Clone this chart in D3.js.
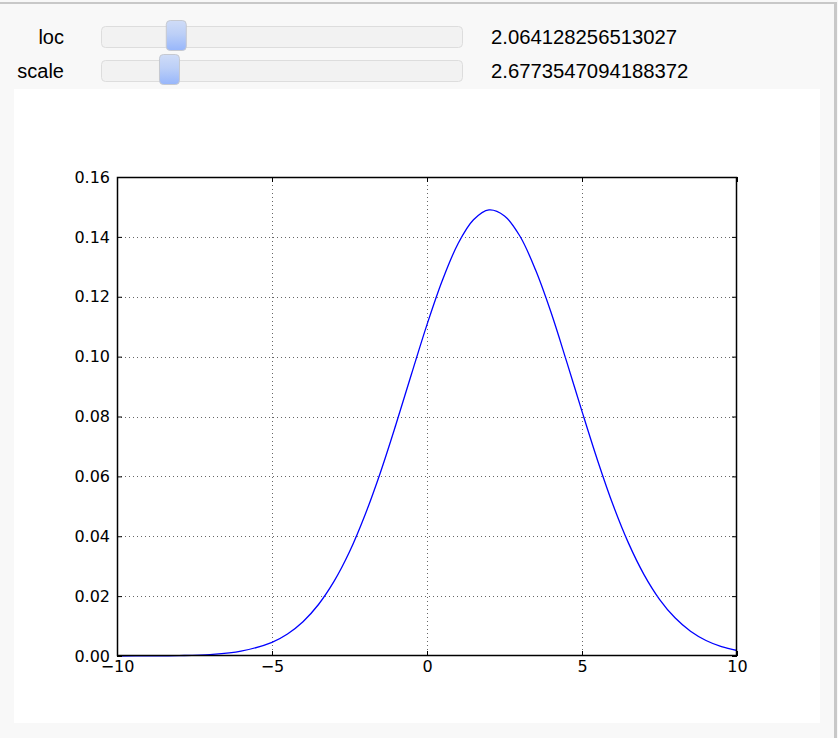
<!DOCTYPE html>
<html>
<head>
<meta charset="utf-8">
<script src="https://cdn.jsdelivr.net/npm/d3@7"></script>
<style>
  html, body { margin: 0; padding: 0; background: #f8f8f8; }
  svg { display: block; }
</style>
</head>
<body>
<svg id="chart" width="838" height="738"></svg>
<script>
// ---- data ----
const sliderNames = ["loc", "scale"];
const sliderValues = ["2.064128256513027", "2.6773547094188372"];
const sliderFractions = [0.19, 0.17]; // handle position along the track

const xs = [-10, -9, -8, -7, -6, -5, -4.5, -4, -3.5, -3, -2.5, -2, -1.5, -1, -0.5, 0, 0.5, 1, 1.5, 2, 2.5, 3, 3.5, 4, 4.5, 5, 5.5, 6, 6.5, 7, 7.5, 8, 8.5, 9, 9.5, 10];
const ys = [0.000006, 0.000029, 0.000127, 0.00048, 0.0016, 0.00458, 0.00737, 0.01145, 0.0172, 0.0249, 0.0348, 0.0471, 0.0614, 0.0774, 0.0942, 0.1107, 0.1256, 0.1377, 0.1457, 0.1490, 0.1470, 0.1402, 0.1290, 0.1148, 0.0985, 0.0817, 0.0654, 0.0505, 0.0377, 0.0272, 0.01895, 0.01276, 0.00828, 0.00519, 0.00314, 0.00184];

const xTicks = [-10, -5, 0, 5, 10];
const yTicks = [0.00, 0.02, 0.04, 0.06, 0.08, 0.10, 0.12, 0.14, 0.16];

// ---- page frame ----
const svg = d3.select("#chart");
svg.append("rect").attr("x", 0).attr("y", 2).attr("width", 836).attr("height", 2).attr("fill", "#c8c8c8");
svg.append("rect").attr("x", 834).attr("y", 2).attr("width", 3).attr("height", 736).attr("fill", "#c8c8c8");

// ---- sliders ----
const defs = svg.append("defs");
const grad = defs.append("linearGradient").attr("id", "hgrad").attr("x1", 0).attr("y1", 0).attr("x2", 0).attr("y2", 1);
grad.append("stop").attr("offset", "0%").attr("stop-color", "#cfdcf7");
grad.append("stop").attr("offset", "45%").attr("stop-color", "#bccff7");
grad.append("stop").attr("offset", "100%").attr("stop-color", "#97b6fb");

const trackX0 = 101, trackW = 361, trackH = 22;
const rowTop = [26, 60];
sliderNames.forEach((name, i) => {
  const g = svg.append("g");
  g.append("text").attr("x", 64).attr("y", rowTop[i] + 18)
    .attr("text-anchor", "end")
    .style("font-family", "'Liberation Sans', Arial, sans-serif").style("font-size", "20px")
    .attr("fill", "#000").text(name);
  g.append("rect").attr("x", trackX0 + 0.5).attr("y", rowTop[i] + 0.5).attr("width", trackW).attr("height", trackH - 1)
    .attr("rx", 4).attr("fill", "#f2f2f2").attr("stroke", "#dddddd");
  const hx = trackX0 + sliderFractions[i] * (trackW - 20);
  g.append("rect").attr("x", hx + 0.5).attr("y", rowTop[i] - 5.5).attr("width", 20).attr("height", 30)
    .attr("rx", 4).attr("fill", "url(#hgrad)").attr("stroke", "#c6c9d0");
  g.append("text").attr("x", 491).attr("y", rowTop[i] + 18)
    .style("font-family", "'Liberation Sans', Arial, sans-serif").style("font-size", "20.3px")
    .attr("fill", "#000").text(sliderValues[i]);
});

// ---- white figure panel ----
svg.append("rect").attr("x", 14).attr("y", 89).attr("width", 806).attr("height", 634).attr("fill", "#ffffff");

// ---- plot ----
const L = 117, R = 737, T = 177, B = 656;
const x = d3.scaleLinear().domain([-10, 10]).range([L, R]);
const y = d3.scaleLinear().domain([0, 0.16]).range([B, T]);
const plot = svg.append("g");

// grid
plot.append("g").selectAll("line").data(xTicks.slice(1, -1)).join("line")
  .attr("x1", d => Math.round(x(d)) + 0.5).attr("x2", d => Math.round(x(d)) + 0.5)
  .attr("y1", T).attr("y2", B)
  .attr("stroke", "#000").attr("stroke-width", 0.6).attr("stroke-dasharray", "1,3");
plot.append("g").selectAll("line").data(yTicks.slice(1, -1)).join("line")
  .attr("y1", d => Math.round(y(d)) + 0.5).attr("y2", d => Math.round(y(d)) + 0.5)
  .attr("x1", L).attr("x2", R)
  .attr("stroke", "#000").attr("stroke-width", 0.6).attr("stroke-dasharray", "1,3");

// curve
const line = d3.line().x((d, i) => x(xs[i])).y(d => y(d)).curve(d3.curveCatmullRom.alpha(0.5));
plot.append("path").datum(ys).attr("d", line)
  .attr("fill", "none").attr("stroke", "#0000ff").attr("stroke-width", 1.3);

// axes with inward ticks
const fontTick = "'DejaVu Sans', sans-serif";
const fmtY = d3.format(".2f");
const fmtX = d => d < 0 ? "\u2212" + Math.abs(d) : String(d);

const xAxisB = d3.axisBottom(x).tickValues(xTicks).tickSize(-5).tickPadding(5).tickFormat(fmtX);
const xAxisT = d3.axisTop(x).tickValues(xTicks).tickSize(-5).tickFormat("");
const yAxisL = d3.axisLeft(y).tickValues(yTicks).tickSize(-5).tickPadding(7).tickFormat(fmtY);
const yAxisR = d3.axisRight(y).tickValues(yTicks).tickSize(-5).tickFormat("");

function styleAxis(g) {
  g.select(".domain").remove();
  g.selectAll(".tick line").attr("stroke", "#000").attr("stroke-width", 1);
  g.selectAll(".tick text").style("font-family", fontTick).style("font-size", "16px").attr("fill", "#000");
}
plot.append("g").attr("transform", `translate(0,${B})`).call(xAxisB).call(styleAxis);
plot.append("g").attr("transform", `translate(0,${T})`).call(xAxisT).call(styleAxis);
plot.append("g").attr("transform", `translate(${L},0)`).call(yAxisL).call(styleAxis);
plot.append("g").attr("transform", `translate(${R},0)`).call(yAxisR).call(styleAxis);

// frame
plot.append("rect").attr("x", L + 0.5).attr("y", T + 0.5).attr("width", R - L - 1).attr("height", B - T - 1)
  .attr("fill", "none").attr("stroke", "#000").attr("stroke-width", 1.5);
</script>
</body>
</html>
